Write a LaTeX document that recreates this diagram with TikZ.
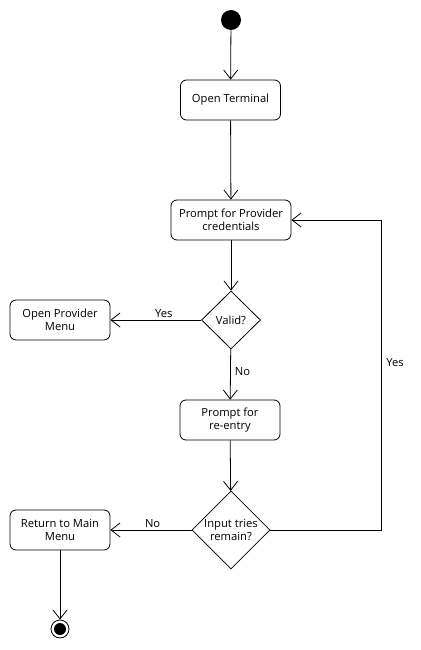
\documentclass[tikz,border=0pt]{standalone}
\usepackage{fontspec}
\setmainfont{Open Sans}
\usetikzlibrary{shapes.geometric,arrows.meta}

\begin{document}
\begin{tikzpicture}[x=1pt, y=-1pt, font=\fontsize{11.2}{13.5}\selectfont,
    line width=0.8pt, >={Straight Barb[length=9pt,width=14pt]},
    action/.style={draw, rounded corners=6pt, minimum width=100pt,
        minimum height=40pt, align=center, inner sep=2pt},
    decision/.style={draw, diamond, inner sep=0pt}]
    \useasboundingbox (0,0) rectangle (420,650);

    % start
    \node[circle, fill, minimum size=20pt, inner sep=0pt] (start) at (231,20) {};

    % main column
    \node[action] (term) at (230.5,100) {Open Terminal};
    \node[action, minimum width=120pt] (cred) at (231,220) {Prompt for Provider\\credentials};
    \node[decision, minimum width=59pt, minimum height=58pt] (valid) at (231,320) {Valid?};
    \node[action] (reentry) at (230,420) {Prompt for\\re-entry};
    \node[decision, minimum width=78pt, minimum height=78pt] (tries) at (231,530) {};
    \node[align=center] (triestext) at (tries) {Input tries\\remain?};

    % left column
    \node[action] (menu) at (60,320) {Open Provider\\Menu};
    \node[action] (ret) at (60,530) {Return to Main\\Menu};

    % end
    \node[circle, draw, minimum size=18pt, inner sep=0pt] (stop) at (60,629) {};
    \node[circle, fill, minimum size=12pt, inner sep=0pt] (stopdot) at (stop) {};

    % loop back corner
    \coordinate (loopcorner) at (381,530);

    % flow
    \draw[->] (start) -- (term);
    \draw[->] (term) -- (cred);
    \draw[->] (cred) -- (valid);
    \draw[->] (valid) -- node[pos=0.41, above, inner sep=2pt] {Yes} (menu);
    \draw[->] (valid) -- node[pos=0.45, right, inner sep=4pt] {No} (reentry);
    \draw[->] (reentry) -- (tries);
    \draw[->] (tries) -- node[pos=0.48, above, inner sep=2pt] {No} (ret);
    \draw[->] (ret) -- (stop);
    \draw[->] (tries) -- (loopcorner) |- node[pos=0.27, right, inner sep=5pt] {Yes} (cred);
\end{tikzpicture}
\end{document}
